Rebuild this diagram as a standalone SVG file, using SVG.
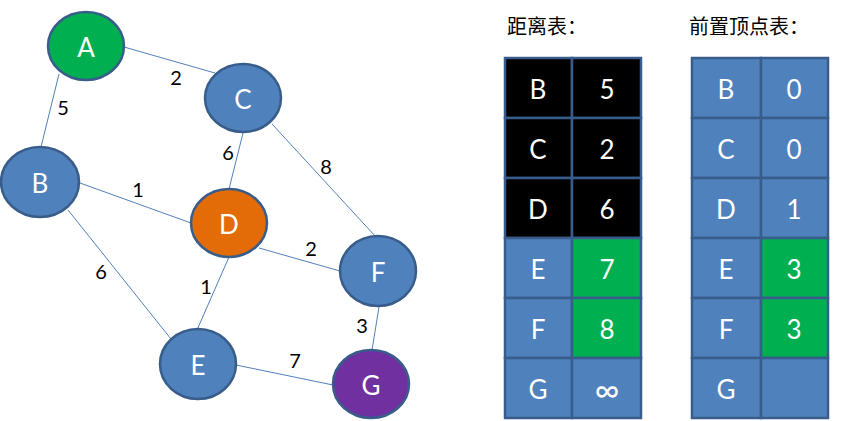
<svg xmlns="http://www.w3.org/2000/svg" width="851" height="421" viewBox="0 0 851 421">
<style>
.edge{stroke:#4F81BD;stroke-width:1;fill:none}
.node{stroke:#385D8A;stroke-width:2.5}
.nl{fill:#fff;font-family:Lato,"Liberation Sans",sans-serif;font-size:26px;text-anchor:middle;dominant-baseline:central}
.wl{fill:#000;font-family:Lato,"Liberation Sans",sans-serif;font-size:20px;text-anchor:middle;dominant-baseline:central}
.cell{stroke:#385D8A;stroke-width:2.5}
.ct{fill:#fff;font-family:Lato,"Liberation Sans",sans-serif;font-size:26px;text-anchor:middle;dominant-baseline:central}
.title{fill:#000;font-family:"Noto Sans CJK SC",sans-serif;font-size:20px}
.blue{fill:#4F81BD}.green{fill:#00B050}.black{fill:#000}.orange{fill:#E36C09}.purple{fill:#7030A0}
</style>
<g id="connectors">
<line class="edge" x1="124" y1="47" x2="215" y2="73"/>
<line class="edge" x1="59" y1="74" x2="41" y2="147"/>
<line class="edge" x1="243" y1="133" x2="229" y2="189"/>
<line class="edge" x1="272" y1="124" x2="376" y2="237"/>
<line class="edge" x1="80" y1="183" x2="191" y2="223"/>
<line class="edge" x1="68" y1="210" x2="171" y2="339"/>
<line class="edge" x1="229" y1="257" x2="197" y2="330"/>
<line class="edge" x1="259" y1="248" x2="340" y2="271"/>
<line class="edge" x1="379" y1="307" x2="372" y2="350"/>
<line class="edge" x1="236" y1="365" x2="333" y2="385"/>
<text class="wl" x="176" y="77">2</text>
<text class="wl" x="63" y="107">5</text>
<text class="wl" x="228" y="152">6</text>
<text class="wl" x="326" y="166">8</text>
<text class="wl" x="138" y="189">1</text>
<text class="wl" x="101" y="271">6</text>
<text class="wl" x="206" y="286">1</text>
<text class="wl" x="311" y="248">2</text>
<text class="wl" x="362" y="325">3</text>
<text class="wl" x="295" y="360">7</text>
</g>
<g id="node-A"><ellipse class="node green" cx="86" cy="46" rx="38" ry="34"/><text class="nl" x="86" y="47">A</text></g>
<g id="node-C"><ellipse class="node blue" cx="243" cy="98" rx="38" ry="34"/><text class="nl" x="243" y="99">C</text></g>
<g id="node-B"><ellipse class="node blue" cx="40" cy="182" rx="39" ry="35"/><text class="nl" x="40" y="183">B</text></g>
<g id="node-D"><ellipse class="node orange" cx="229" cy="223" rx="38" ry="34"/><text class="nl" x="229" y="224">D</text></g>
<g id="node-F"><ellipse class="node blue" cx="378" cy="271" rx="38" ry="35"/><text class="nl" x="378" y="272">F</text></g>
<g id="node-E"><ellipse class="node blue" cx="198" cy="364" rx="38" ry="35"/><text class="nl" x="198" y="365">E</text></g>
<g id="node-G"><ellipse class="node purple" cx="371" cy="384" rx="38" ry="34"/><text class="nl" x="371" y="385">G</text></g>

<g id="dist-table">
<text class="title" x="507" y="34">距离表：</text>
<rect class="cell black" x="505" y="58" width="67" height="60"/><rect class="cell black" x="572" y="58" width="69" height="60"/>
<rect class="cell black" x="505" y="118" width="67" height="60"/><rect class="cell black" x="572" y="118" width="69" height="60"/>
<rect class="cell black" x="505" y="178" width="67" height="60"/><rect class="cell black" x="572" y="178" width="69" height="60"/>
<rect class="cell blue" x="505" y="238" width="67" height="60"/><rect class="cell green" x="572" y="238" width="69" height="60"/>
<rect class="cell blue" x="505" y="298" width="67" height="60"/><rect class="cell green" x="572" y="298" width="69" height="60"/>
<rect class="cell blue" x="505" y="358" width="67" height="60"/><rect class="cell blue" x="572" y="358" width="69" height="60"/>
<text class="ct" x="538" y="89">B</text><text class="ct" x="607" y="89">5</text>
<text class="ct" x="538" y="149">C</text><text class="ct" x="607" y="149">2</text>
<text class="ct" x="538" y="209">D</text><text class="ct" x="607" y="209">6</text>
<text class="ct" x="538" y="269">E</text><text class="ct" x="607" y="269">7</text>
<text class="ct" x="538" y="329">F</text><text class="ct" x="607" y="329">8</text>
<text class="ct" x="538" y="389">G</text><text class="ct" x="607" y="388" style="font-size:34px">∞</text>
</g>
<g id="pred-table">
<text class="title" x="689" y="34">前置顶点表：</text>
<rect class="cell blue" x="692" y="58" width="69" height="60"/><rect class="cell blue" x="761" y="58" width="67" height="60"/>
<rect class="cell blue" x="692" y="118" width="69" height="60"/><rect class="cell blue" x="761" y="118" width="67" height="60"/>
<rect class="cell blue" x="692" y="178" width="69" height="60"/><rect class="cell blue" x="761" y="178" width="67" height="60"/>
<rect class="cell blue" x="692" y="238" width="69" height="60"/><rect class="cell green" x="761" y="238" width="67" height="60"/>
<rect class="cell blue" x="692" y="298" width="69" height="60"/><rect class="cell green" x="761" y="298" width="67" height="60"/>
<rect class="cell blue" x="692" y="358" width="69" height="60"/><rect class="cell blue" x="761" y="358" width="67" height="60"/>
<text class="ct" x="726" y="89">B</text><text class="ct" x="794" y="89">0</text>
<text class="ct" x="726" y="149">C</text><text class="ct" x="794" y="149">0</text>
<text class="ct" x="726" y="209">D</text><text class="ct" x="794" y="209">1</text>
<text class="ct" x="726" y="269">E</text><text class="ct" x="794" y="269">3</text>
<text class="ct" x="726" y="329">F</text><text class="ct" x="794" y="329">3</text>
<text class="ct" x="726" y="389">G</text>
</g>
</svg>
